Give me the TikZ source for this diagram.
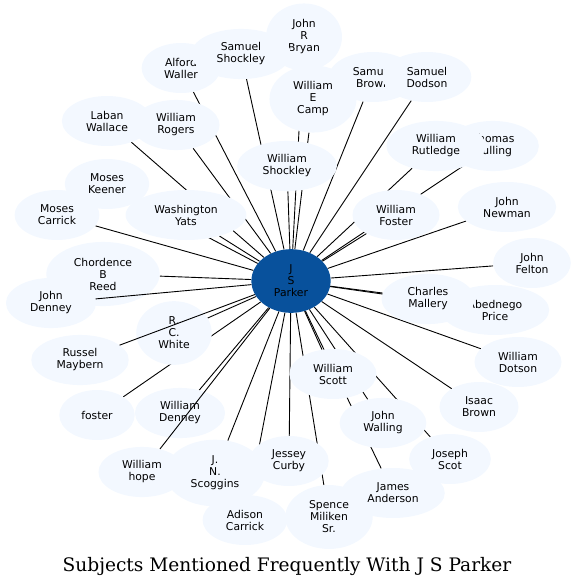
\documentclass[tikz,border=0pt]{standalone}
\usepackage{fontspec}
\newfontfamily\namefont{DejaVu Sans}
\newfontfamily\titlefont{DejaVu Serif}
\usepackage{tikz}
\usetikzlibrary{shapes,calc}
\definecolor{subjectblue}{HTML}{F3F8FF}
\definecolor{parkerblue}{HTML}{08519C}

\begin{document}
\begin{tikzpicture}[x=1pt, y=-1pt, font=\namefont\fontsize{10.8}{12}\selectfont]
\tikzset{subject/.style = {ellipse, fill=subjectblue, align=center,
  inner xsep=11pt, inner ysep=6.5pt, minimum width=72pt, minimum height=50pt}}
\tikzset{link/.style = {line width=.9pt}}
\pgfdeclarelayer{background}
\pgfsetlayers{background,main}

  \useasboundingbox (0,0) rectangle (577,587);

  \node[subject, fill=parkerblue] (parker) at (291,281) {J\\S\\Parker};

  \node[subject] (johnrbryan) at (304,37) {John\\R\\Bryan};
  \node[subject] (samuelbrown) at (373,77) {Samuel\\Brown};
  \node[subject] (williamecamp) at (313,99) {William\\E\\Camp};
  \node[subject] (alfordwaller) at (181,68) {Alford\\Waller};
  \node[subject] (samuelshockley) at (241,54) {Samuel\\Shockley};
  \node[subject] (samueldodson) at (427,77) {Samuel\\Dodson};
  \node[subject] (labanwallace) at (107,121) {Laban\\Wallace};
  \node[subject] (williamrogers) at (176,125) {William\\Rogers};
  \node[subject] (williamshockley) at (287,166) {William\\Shockley};
  \node[subject] (thomasgulling) at (493,146) {Thomas\\Gulling};
  \node[subject] (williamrutledge) at (436,146) {William\\Rutledge};
  \node[subject] (moseskeener) at (107,184) {Moses\\Keener};
  \node[subject] (mosescarrick) at (57,215) {Moses\\Carrick};
  \node[subject] (washingtonyats) at (186,215) {Washington\\Yats};
  \node[subject] (williamfoster) at (396,215) {William\\Foster};
  \node[subject] (johnnewman) at (507,207) {John\\Newman};
  \node[subject] (chordencebreed) at (103,274) {Chordence\\B\\Reed};
  \node[subject] (johndenney) at (51,303) {John\\Denney};
  \node[subject] (johnfelton) at (532,263) {John\\Felton};
  \node[subject] (abednegoprice) at (495,310) {Abednego\\Price};
  \node[subject, minimum width=93pt] (charlesmallery) at (428,299)
    {Charles\\Mallery};
  \node[subject] (rcwhite) at (174,333) {R.\\C.\\White};
  \node[subject] (russelmaybern) at (80,360) {Russel\\Maybern};
  \node[subject] (williamdotson) at (518,362) {William\\Dotson};
  \node[subject] (williamscott) at (333,374) {William\\Scott};
  \node[subject] (foster) at (97,415) {foster};
  \node[subject] (williamdenney) at (180,413) {William\\Denney};
  \node[subject] (isaacbrown) at (479,407) {Isaac\\Brown};
  \node[subject] (johnwalling) at (383,423) {John\\Walling};
  \node[subject] (josephscot) at (450,459) {Joseph\\Scot};
  \node[subject] (williamhope) at (142,472) {William\\hope};
  \node[subject] (jnscoggins) at (215,473) {J.\\N.\\Scoggins};
  \node[subject] (jesseycurby) at (289,461) {Jessey\\Curby};
  \node[subject] (adisoncarrick) at (245,520) {Adison\\Carrick};
  \node[subject] (jamesanderson) at (393,493) {James\\Anderson};
  \node[subject] (spencemiliken) at (329,517) {Spence\\Miliken\\Sr.};

  % links hidden behind the subjects they cross
  \begin{pgfonlayer}{background}
    \draw[link] (parker) -- (johnrbryan);
    \draw[link] (parker) -- (williamecamp);
    \draw[link] (parker) -- (alfordwaller);
    \draw[link] (parker) -- (samuelshockley);
    \draw[link] (parker) -- (samuelbrown);
    \draw[link] (parker) -- (samueldodson);
    \draw[link] (parker) -- (labanwallace);
    \draw[link] (parker) -- (williamrogers);
    \draw[link] (parker) -- (williamshockley);
    \draw[link] (parker) -- (thomasgulling);
    \draw[link] (parker) -- (williamrutledge);
    \draw[link] (parker) -- (moseskeener);
    \draw[link] (parker) -- (mosescarrick);
    \draw[link] (parker) -- (washingtonyats);
    \draw[link] (parker) -- (williamfoster);
    \draw[link] (parker) -- (johnnewman);
    \draw[link] (parker) -- (chordencebreed);
    \draw[link] (parker) -- (johnfelton);
    \draw[link] (parker) -- (abednegoprice);
    \draw[link] (parker) -- (charlesmallery);
    \draw[link] (parker) -- (rcwhite);
    \draw[link] (parker) -- (williamdotson);
    \draw[link] (parker) -- (williamscott);
    \draw[link] (parker) -- (foster);
    \draw[link] (parker) -- (williamdenney);
    \draw[link] (parker) -- (isaacbrown);
    \draw[link] (parker) -- (johnwalling);
    \draw[link] (parker) -- (josephscot);
    \draw[link] (parker) -- (jnscoggins);
    \draw[link] (parker) -- (jesseycurby);
    \draw[link] (parker) -- (adisoncarrick);
    \draw[link] (parker) -- (jamesanderson);
    \draw[link] (parker) -- (spencemiliken);
  \end{pgfonlayer}

  % these run over the subjects
  \draw[link] (parker) -- (johndenney);
  \draw[link] (parker) -- (russelmaybern);
  \draw[link] (parker) -- (williamhope);

  \node[font=\titlefont\fontsize{18.6}{22}\selectfont, anchor=base] (title)
    at (287,571) {Subjects Mentioned Frequently With J S Parker};

\end{tikzpicture}
\end{document}
